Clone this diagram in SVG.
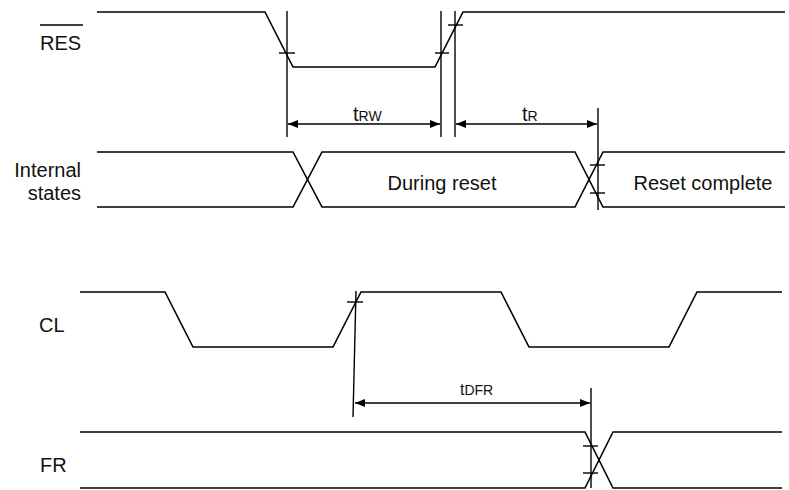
<svg xmlns="http://www.w3.org/2000/svg" width="789" height="490" viewBox="0 0 789 490">
<style>
.w{fill:none;stroke:#000;stroke-width:1.6;stroke-linejoin:miter}
.r{fill:none;stroke:#000;stroke-width:1.4}
.t{font-family:"Liberation Sans",Arial,sans-serif;font-size:20px;fill:#111}
.s{font-size:14px}
</style>
<defs>
<marker id="ah" viewBox="0 0 10 8" refX="10" refY="4" markerWidth="10" markerHeight="8" markerUnits="userSpaceOnUse" orient="auto-start-reverse">
<path d="M0,0 L10,4 L0,8 Z" fill="#000"/>
</marker>
</defs>
<rect width="789" height="490" fill="#fff"/>
<g id="res">
<text class="t" x="40" y="50">RES</text>
<line class="r" x1="40" y1="25" x2="83" y2="25"/>
<polyline class="w" points="97,12 265,12 293,67 435,67 463,12 785,12"/>
</g>
<g id="internal">
<text class="t" x="81" y="177" text-anchor="end">Internal</text>
<text class="t" x="81" y="200" text-anchor="end">states</text>
<polyline class="w" points="97,152 293,152 322,207 575,207 603,152 785,152"/>
<polyline class="w" points="97,207 293,207 322,152 575,152 603,207 785,207"/>
<text class="t" x="442" y="190" text-anchor="middle">During reset</text>
<text class="t" x="703" y="190" text-anchor="middle">Reset complete</text>
</g>
<g id="cl">
<text class="t" x="39" y="332">CL</text>
<polyline class="w" points="80,292 165,292 193,347 333,347 361,292 501,292 529,347 669,347 697,292 782,292"/>
</g>
<g id="fr">
<text class="t" x="40" y="472">FR</text>
<polyline class="w" points="80,432 585,432 613,488 782,488"/>
<polyline class="w" points="80,488 585,488 613,432 782,432"/>
</g>
<g id="connectors">
<line class="r" x1="287" y1="11" x2="287" y2="137"/>
<line class="r" x1="279" y1="53" x2="295" y2="53"/>
<line class="r" x1="441" y1="11" x2="441" y2="137"/>
<line class="r" x1="435" y1="53" x2="449" y2="53"/>
<line class="r" x1="455" y1="11" x2="455" y2="137"/>
<line class="r" x1="448" y1="25" x2="463" y2="25"/>
<line class="r" x1="598" y1="108" x2="598" y2="210"/>
<line class="r" x1="590" y1="165" x2="605" y2="165"/>
<line class="r" x1="590" y1="193" x2="605" y2="193"/>
<line class="r" x1="356" y1="291" x2="353" y2="417"/>
<line class="r" x1="347" y1="302" x2="363" y2="302"/>
<line class="r" x1="591" y1="388" x2="591" y2="488"/>
<line class="r" x1="583" y1="446" x2="598" y2="446"/>
<line class="r" x1="583" y1="473" x2="598" y2="473"/>
<line class="r" x1="288" y1="124" x2="440" y2="124" marker-start="url(#ah)" marker-end="url(#ah)"/>
<line class="r" x1="456" y1="124" x2="597" y2="124" marker-start="url(#ah)" marker-end="url(#ah)"/>
<line class="r" x1="355" y1="403" x2="590" y2="403" marker-start="url(#ah)" marker-end="url(#ah)"/>
<text class="t" x="353" y="121">t<tspan class="s">RW</tspan></text>
<text class="t" x="522" y="121">t<tspan class="s">R</tspan></text>
<text class="t" x="460" y="395" style="font-size:16px">t<tspan class="s">DFR</tspan></text>
</g>
</svg>
